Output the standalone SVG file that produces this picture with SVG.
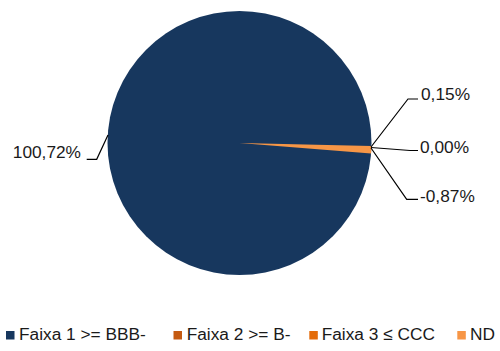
<svg xmlns="http://www.w3.org/2000/svg" width="500" height="351" viewBox="0 0 500 351">
<style>
text{font-family:"Liberation Sans",Arial,sans-serif;font-size:17.3px;fill:#1a1a1a}
.lead{fill:none;stroke:#000;stroke-width:1.2}
</style>
<rect width="500" height="351" fill="#fff"/>
<g id="pie">
<circle id="slice-faixa1" cx="239.5" cy="143" r="132" fill="#17375e"/>
<path id="slice-nd" d="M239.5,143 L371.47,146 A132,132 0 0 1 371.07,153.6 Z" fill="#f79646"/>
</g>
<g id="connectors">
<polyline class="lead" points="371,147 408,99 418,99"/>
<polyline class="lead" points="371,147.5 410,150.5 418,150.5"/>
<polyline class="lead" points="371,148 406.7,199.3 418,199.3"/>
<polyline class="lead" points="108,135 96.7,159.3 86.7,159.3"/>
</g>
<g id="labels">
<text x="421" y="100">0,15%</text>
<text x="420" y="152.7">0,00%</text>
<text x="420" y="202">-0,87%</text>
<text x="81" y="157.7" text-anchor="end">100,72%</text>
</g>
<g id="legend">
<g id="leg1"><rect x="6" y="331" width="8.5" height="8.5" fill="#17375e"/><text x="19" y="340">Faixa 1 &gt;= BBB-</text></g>
<g id="leg2"><rect x="173.5" y="331" width="8.5" height="8.5" fill="#c55a11"/><text x="186.7" y="340">Faixa 2 &gt;= B-</text></g>
<g id="leg3"><rect x="309.3" y="331" width="8.5" height="8.5" fill="#e46c0a"/><text x="321.7" y="340">Faixa 3 ≤ CCC</text></g>
<g id="leg4"><rect x="457.3" y="331" width="8.5" height="8.5" fill="#f79646"/><text x="470" y="340">ND</text></g>
</g>
</svg>
